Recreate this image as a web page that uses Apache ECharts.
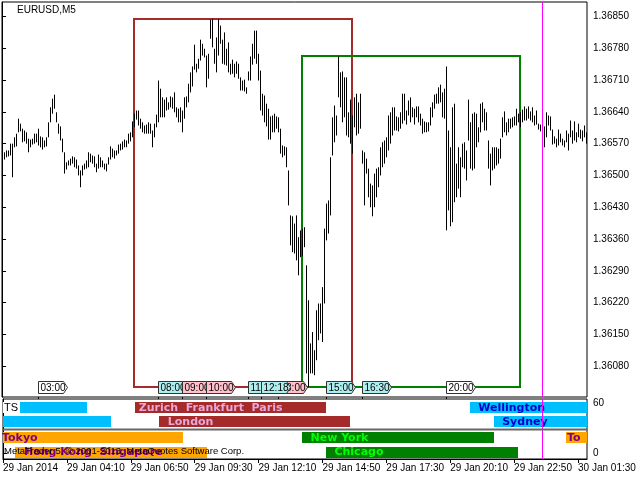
<!DOCTYPE html>
<html>
<head>
<meta charset="utf-8">
<script src="https://cdn.jsdelivr.net/npm/echarts@6/dist/echarts.min.js"></script>
<style>
html, body { margin: 0; padding: 0; background: #fff; }
#chart { width: 640px; height: 480px; }
</style>
</head>
<body>
<div id="chart"></div>
<script>
// EURUSD,M5 - minutes are counted from 29 Jan 01:30, one bar every 5 minutes
var firstBarMinute = 5;
var barStep = 5;

var barHigh = [
	1.36551,1.36555,1.36555,1.36570,1.36570,1.36584,1.36592,1.36625,1.36614,1.36603,
	1.36599,1.36595,1.36581,1.36579,1.36581,1.36592,1.36592,1.36603,1.36586,1.36584,
	1.36577,1.36584,1.36617,1.36650,1.36669,1.36678,1.36639,1.36614,1.36608,1.36581,
	1.36551,1.36529,1.36533,1.36537,1.36542,1.36540,1.36535,1.36522,1.36511,1.36522,
	1.36526,1.36533,1.36551,1.36548,1.36544,1.36542,1.36526,1.36546,1.36540,1.36533,
	1.36526,1.36526,1.36540,1.36564,1.36559,1.36555,1.36555,1.36568,1.36570,1.36575,
	1.36579,1.36577,1.36592,1.36595,1.36619,1.36636,1.36643,1.36643,1.36625,1.36617,
	1.36610,1.36612,1.36617,1.36614,1.36599,1.36614,1.36634,1.36709,1.36691,1.36672,
	1.36667,1.36672,1.36661,1.36674,1.36672,1.36683,1.36650,1.36647,1.36650,1.36643,
	1.36672,1.36674,1.36702,1.36727,1.36740,1.36788,1.36746,1.36757,1.36799,1.36790,
	1.36779,1.36764,1.36768,1.36843,1.36845,1.36779,1.36804,1.36845,1.36830,1.36799,
	1.36815,1.36779,1.36793,1.36746,1.36755,1.36746,1.36751,1.36746,1.36716,1.36709,
	1.36711,1.36694,1.36729,1.36762,1.36790,1.36819,1.36819,1.36768,1.36731,1.36680,
	1.36676,1.36658,1.36647,1.36630,1.36632,1.36636,1.36630,1.36628,1.36603,1.36566,
	1.36564,1.36562,1.36511,1.36412,1.36410,1.36394,1.36412,1.36364,1.36379,1.36383,
	1.36386,1.36302,1.36225,1.36130,1.36155,1.36115,1.36203,1.36218,1.36218,1.36254,
	1.36383,1.36438,1.36445,1.36540,1.36628,1.36654,1.36632,1.36762,1.36727,1.36729,
	1.36716,1.36716,1.36639,1.36667,1.36632,1.36672,1.36680,1.36661,1.36680,1.36555,
	1.36551,1.36537,1.36515,1.36482,1.36478,1.36504,1.36515,1.36518,1.36562,1.36573,
	1.36577,1.36584,1.36632,1.36639,1.36650,1.36650,1.36630,1.36628,1.36639,1.36680,
	1.36680,1.36643,1.36665,1.36672,1.36650,1.36647,1.36652,1.36652,1.36636,1.36625,
	1.36619,1.36617,1.36617,1.36650,1.36661,1.36678,1.36680,1.36694,1.36700,1.36683,
	1.36691,1.36740,1.36599,1.36562,1.36650,1.36658,1.36526,1.36562,1.36540,1.36570,
	1.36573,1.36555,1.36667,1.36617,1.36636,1.36639,1.36636,1.36606,1.36658,1.36661,
	1.36647,1.36639,1.36577,1.36548,1.36562,1.36562,1.36562,1.36559,1.36581,1.36628,
	1.36641,1.36617,1.36625,1.36625,1.36628,1.36630,1.36647,1.36636,1.36639,1.36645,
	1.36652,1.36647,1.36652,1.36641,1.36650,1.36632,1.36643,1.36614,1.36612,1.36647,
	1.36608,1.36639,1.36632,1.36630,1.36601,1.36586,1.36581,1.36601,1.36592,1.36581,
	1.36577,1.36599,1.36592,1.36621,1.36599,1.36619,1.36595,1.36614,1.36601,1.36599,1.36610,1.36595
];

var barLow = [
	1.36535,1.36540,1.36542,1.36544,1.36496,1.36562,1.36564,1.36595,1.36597,1.36573,
	1.36575,1.36570,1.36551,1.36562,1.36568,1.36570,1.36573,1.36566,1.36562,1.36557,
	1.36562,1.36564,1.36584,1.36617,1.36636,1.36647,1.36617,1.36592,1.36577,1.36551,
	1.36504,1.36513,1.36522,1.36522,1.36526,1.36518,1.36515,1.36500,1.36474,1.36500,
	1.36513,1.36515,1.36518,1.36529,1.36526,1.36518,1.36507,1.36515,1.36518,1.36518,
	1.36513,1.36509,1.36524,1.36535,1.36540,1.36537,1.36544,1.36548,1.36555,1.36557,
	1.36562,1.36562,1.36570,1.36575,1.36584,1.36606,1.36623,1.36610,1.36603,1.36595,
	1.36592,1.36592,1.36592,1.36592,1.36562,1.36584,1.36606,1.36617,1.36628,1.36628,
	1.36628,1.36643,1.36645,1.36650,1.36647,1.36639,1.36628,1.36617,1.36617,1.36595,
	1.36625,1.36650,1.36661,1.36683,1.36696,1.36733,1.36727,1.36735,1.36753,1.36764,
	1.36760,1.36694,1.36713,1.36801,1.36782,1.36746,1.36727,1.36764,1.36790,1.36746,
	1.36744,1.36742,1.36727,1.36722,1.36724,1.36716,1.36724,1.36713,1.36687,1.36687,
	1.36685,1.36680,1.36709,1.36709,1.36744,1.36757,1.36746,1.36709,1.36643,1.36632,
	1.36617,1.36608,1.36579,1.36579,1.36595,1.36595,1.36603,1.36595,1.36548,1.36540,
	1.36544,1.36518,1.36434,1.36346,1.36331,1.36328,1.36313,1.36280,1.36320,1.36322,
	1.36342,1.36064,1.36034,1.36064,1.36064,1.36060,1.36093,1.36137,1.36152,1.36133,
	1.36218,1.36357,1.36372,1.36412,1.36544,1.36573,1.36588,1.36672,1.36650,1.36617,
	1.36628,1.36588,1.36584,1.36570,1.36548,1.36606,1.36588,1.36592,1.36603,1.36526,
	1.36434,1.36504,1.36452,1.36430,1.36410,1.36430,1.36452,1.36474,1.36500,1.36518,
	1.36526,1.36540,1.36555,1.36570,1.36588,1.36599,1.36599,1.36597,1.36603,1.36614,
	1.36621,1.36612,1.36632,1.36617,1.36628,1.36612,1.36628,1.36617,1.36610,1.36592,
	1.36595,1.36595,1.36597,1.36610,1.36628,1.36647,1.36658,1.36658,1.36661,1.36628,
	1.36625,1.36379,1.36423,1.36388,1.36397,1.36441,1.36452,1.36471,1.36452,1.36518,
	1.36515,1.36489,1.36577,1.36515,1.36511,1.36515,1.36562,1.36573,1.36595,1.36617,
	1.36599,1.36599,1.36515,1.36478,1.36511,1.36515,1.36522,1.36526,1.36537,1.36584,
	1.36595,1.36588,1.36595,1.36603,1.36606,1.36610,1.36610,1.36617,1.36606,1.36617,
	1.36621,1.36621,1.36625,1.36621,1.36617,1.36610,1.36612,1.36601,1.36597,1.36584,
	1.36562,1.36584,1.36610,1.36599,1.36568,1.36570,1.36562,1.36566,1.36573,1.36566,
	1.36562,1.36573,1.36555,1.36584,1.36570,1.36577,1.36573,1.36584,1.36581,1.36575,1.36584,1.36570
];

var priceTicks = [1.36080,1.36150,1.36220,1.36290,1.36360,1.36430,1.36500,1.36570,1.36640,1.36710,1.36780,1.36850];
var levelTicks = [0, 60];
var timeTicks = [0,160,320,480,640,800,960,1120,1280,1440];
var timeLabels = ['29 Jan 2014','29 Jan 04:10','29 Jan 06:50','29 Jan 09:30','29 Jan 12:10',
	'29 Jan 14:50','29 Jan 17:30','29 Jan 20:10','29 Jan 22:50','30 Jan 01:30'];

// high/low boxes of two sessions
var boxStart = [330, 750];
var boxEnd = [875, 1295];
var boxHigh = [1.36845, 1.36762];
var boxLow = [1.36034, 1.36034];

// time marks at the bottom of the price pane
var markMinute = [90, 390, 450, 510, 615, 690, 648, 810, 900, 1110];
var markText = ['03:00','08:00','09:00','10:00','11:45','13:00','12:18','15:00','16:30','20:00'];

// sessions in the lower pane
var sessionName = ['Wellington','Zurich  Frankfurt  Paris','Wellington','Sydney','London','Sydney',
	'Tokyo','New York','Tokyo','Hong Kong  Singapore','Chicago'];
var sessionLabel = ['','Zurich  Frankfurt  Paris','Wellington','','London','Sydney',
	'Tokyo','New York','Tokyo','Hong Kong  Singapore','Chicago'];
var sessionStart = [-180, 330, 1170, -210, 390, 1230, -90, 750, 1410, 30, 810];
var sessionEnd = [210, 810, 1650, 270, 870, 1710, 450, 1230, 1950, 510, 1290];

var daySeparator = 1350;

//样式
var boxColor = ['#A52A2A', '#008000'];
var markFill = {'03:00':'#FFFFFF','20:00':'#FFFFFF','09:00':'#FFC0CB','10:00':'#FFC0CB','13:00':'#FFC0CB'};
var sessionStyle = {
	'Wellington' : {row : 54.8, fill : '#00BFFF', text : '#0000CD', dx : 8},
	'Sydney' : {row : 38, fill : '#00BFFF', text : '#0000CD', dx : 8},
	'Zurich  Frankfurt  Paris' : {row : 54.8, fill : '#A52A2A', text : '#E8A8D8', dx : 4},
	'London' : {row : 38, fill : '#A52A2A', text : '#E8A8D8', dx : 9},
	'Tokyo' : {row : 18.8, fill : '#FFA500', text : '#800080', dx : 1},
	'Hong Kong  Singapore' : {row : 1.8, fill : '#FFA500', text : '#800080', dx : 9},
	'New York' : {row : 18.8, fill : '#008000', text : '#00FF00', dx : 8},
	'Chicago' : {row : 1.8, fill : '#008000', text : '#00FF00', dx : 8}
};
var smallFont = '10px "Liberation Sans", Arial, sans-serif';

function renderBar(params, api) {
	var top = api.coord([api.value(0), api.value(1)]);
	var bottom = api.coord([api.value(0), api.value(2)]);
	var x = Math.round(top[0]) + 0.5;
	var y2 = Math.max(bottom[1], top[1] + 1);
	return {
		type : 'line',
		shape : {x1 : x, y1 : top[1], x2 : x, y2 : y2},
		style : {stroke : '#000', lineWidth : 1}
	};
}

function renderBox(params, api) {
	var p1 = api.coord([api.value(0), api.value(2)]);
	var p2 = api.coord([api.value(1), api.value(3)]);
	return {
		type : 'rect',
		shape : {x : Math.round(p1[0]), y : Math.round(p1[1]), width : Math.round(p2[0] - p1[0]), height : Math.round(p2[1] - p1[1])},
		style : {fill : null, stroke : boxColor[params.dataIndex], lineWidth : 2}
	};
}

function renderMark(params, api) {
	var sys = params.coordSys;
	var x = Math.round(api.coord([api.value(0), priceTicks[0]])[0]) + 0.5;
	var label = markText[params.dataIndex];
	var top = sys.y + sys.height - 15.5;
	var h = 12, w = 25;
	return {
		type : 'group',
		children : [{
			type : 'polygon',
			shape : {points : [[x, top], [x + w, top], [x + w + 4, top + h / 2], [x + w, top + h], [x, top + h]]},
			style : {fill : markFill[label] || '#AFEEEE', stroke : '#333', lineWidth : 1}
		}, {
			type : 'line',
			shape : {x1 : x, y1 : sys.y + sys.height, x2 : x, y2 : sys.y + sys.height + 2},
			style : {stroke : '#000', lineWidth : 1}
		}, {
			type : 'text',
			style : {text : label, x : x + 2, y : top + h / 2 + 0.5, verticalAlign : 'middle', fill : '#000', font : smallFont}
		}]
	};
}

function renderSession(params, api) {
	var sys = params.coordSys;
	var i = params.dataIndex;
	var st = sessionStyle[sessionName[i]];
	var yc = api.coord([0, st.row])[1];
	var x1 = api.coord([api.value(0), st.row])[0];
	var x2 = api.coord([api.value(1), st.row])[0];
	var rect = echarts.graphic.clipRectByRect(
		{x : Math.round(x1), y : Math.round(yc) - 5, width : Math.round(x2) - Math.round(x1), height : 11},
		{x : sys.x, y : sys.y, width : sys.width, height : sys.height});
	var children = [];
	if (rect) {
		children.push({type : 'rect', shape : rect, style : {fill : st.fill}});
	}
	var label = sessionLabel[i];
	if (label) {
		var tx = Math.max(x1, sys.x - 2) + st.dx;
		children.push({
			type : 'text',
			z2 : 5,
			style : {
				text : label, x : tx, y : yc + 0.5, verticalAlign : 'middle',
				fill : st.text, font : 'bold 11px "DejaVu Sans", sans-serif',
				width : sys.x + sys.width - tx, overflow : 'truncate', ellipsis : ''
			}
		});
	}
	return {type : 'group', children : children};
}

var barData = [];
for (var i = 0; i < barHigh.length; i++) {
	barData.push([firstBarMinute + i * barStep, barHigh[i], barLow[i]]);
}
var boxData = [];
for (var i = 0; i < boxStart.length; i++) {
	boxData.push([boxStart[i], boxEnd[i], boxHigh[i], boxLow[i]]);
}
var markData = [];
for (var i = 0; i < markMinute.length; i++) {
	markData.push([markMinute[i], i]);
}
var sessionData = [];
for (var i = 0; i < sessionName.length; i++) {
	sessionData.push([sessionStart[i], sessionEnd[i], i]);
}

var separatorLine = {
	symbol : 'none',
	silent : true,
	animation : false,
	label : {show : false},
	lineStyle : {color : '#FF00FF', width : 1, type : 'solid'},
	data : [{xAxis : daySeparator}]
};

var myChart = echarts.init(document.getElementById('chart'), null, {renderer : 'canvas'});
var option = {
	animation : false,
	backgroundColor : '#fff',
	grid : [{
		left : 2, top : 2, width : 585, height : 395,
		show : true, borderColor : '#000', borderWidth : 1
	}, {
		left : 2, top : 399, width : 585, height : 60,
		show : true, borderColor : '#000', borderWidth : 1
	}],
	xAxis : [{
		type : 'value', gridIndex : 0, min : 0, max : 1462.5,
		show : false, splitLine : {show : false}
	}, {
		type : 'value', gridIndex : 1, min : 0, max : 1462.5,
		splitLine : {show : false},
		axisLine : {show : true, onZero : false, lineStyle : {color : '#000'}},
		axisTick : {show : true, customValues : timeTicks, length : 4, lineStyle : {color : '#000'}},
		axisLabel : {
			customValues : timeTicks, align : 'left', margin : 4,
			color : '#000', fontSize : 10, fontFamily : 'Liberation Sans',
			formatter : function(v) {
				return timeLabels[timeTicks.indexOf(v)];
			}
		}
	}],
	yAxis : [{
		type : 'value', gridIndex : 0, position : 'right',
		min : 1.36012, max : 1.36882,
		splitLine : {show : false},
		axisLine : {show : true, lineStyle : {color : '#000'}},
		axisTick : {show : true, customValues : priceTicks, length : 4, lineStyle : {color : '#000'}},
		axisLabel : {
			customValues : priceTicks, margin : 6, color : '#000',
			fontSize : 10, fontFamily : 'Liberation Sans',
			formatter : function(v) {
				return v.toFixed(5);
			}
		}
	}, {
		type : 'value', gridIndex : 1, position : 'right',
		min : -7.2, max : 64.8,
		splitLine : {show : false},
		axisLine : {show : true, lineStyle : {color : '#000'}},
		axisTick : {show : true, customValues : levelTicks, length : 4, lineStyle : {color : '#000'}},
		axisLabel : {customValues : levelTicks, margin : 6, color : '#000', fontSize : 10, fontFamily : 'Liberation Sans'}
	}],
	graphic : [{
		type : 'text', left : 17, top : 5, z : 100,
		style : {text : 'EURUSD,M5', fill : '#000', font : smallFont}
	}, {
		type : 'line', z : 100,
		shape : {x1 : 2, y1 : 429.5, x2 : 587, y2 : 429.5},
		style : {stroke : '#666', lineWidth : 2}
	}, {
		type : 'rect', z : 100,
		shape : {x : 3, y : 402, width : 17, height : 11},
		style : {fill : '#fff'}
	}, {
		type : 'text', left : 4, top : 402, z : 101,
		style : {text : 'TS', fill : '#000', font : '11px "Liberation Sans", Arial, sans-serif'}
	}, {
		type : 'text', left : 4, top : 446, z : 100,
		style : {text : 'MetaTrader 5, \u00a9 2001-2013, MetaQuotes Software Corp.', fill : '#000', font : '9.5px "Liberation Sans", Arial, sans-serif'}
	}],
	series : [{
		type : 'custom',
		name : 'boxes',
		xAxisIndex : 0, yAxisIndex : 0,
		renderItem : renderBox,
		data : boxData,
		z : 1
	}, {
		type : 'custom',
		name : 'EURUSD',
		xAxisIndex : 0, yAxisIndex : 0,
		renderItem : renderBar,
		data : barData,
		markLine : separatorLine,
		z : 2
	}, {
		type : 'custom',
		name : 'marks',
		xAxisIndex : 0, yAxisIndex : 0,
		renderItem : renderMark,
		data : markData,
		z : 3
	}, {
		type : 'custom',
		name : 'sessions',
		xAxisIndex : 1, yAxisIndex : 1,
		renderItem : renderSession,
		data : sessionData,
		markLine : separatorLine,
		z : 2
	}]
};
myChart.setOption(option);
</script>
</body>
</html>
